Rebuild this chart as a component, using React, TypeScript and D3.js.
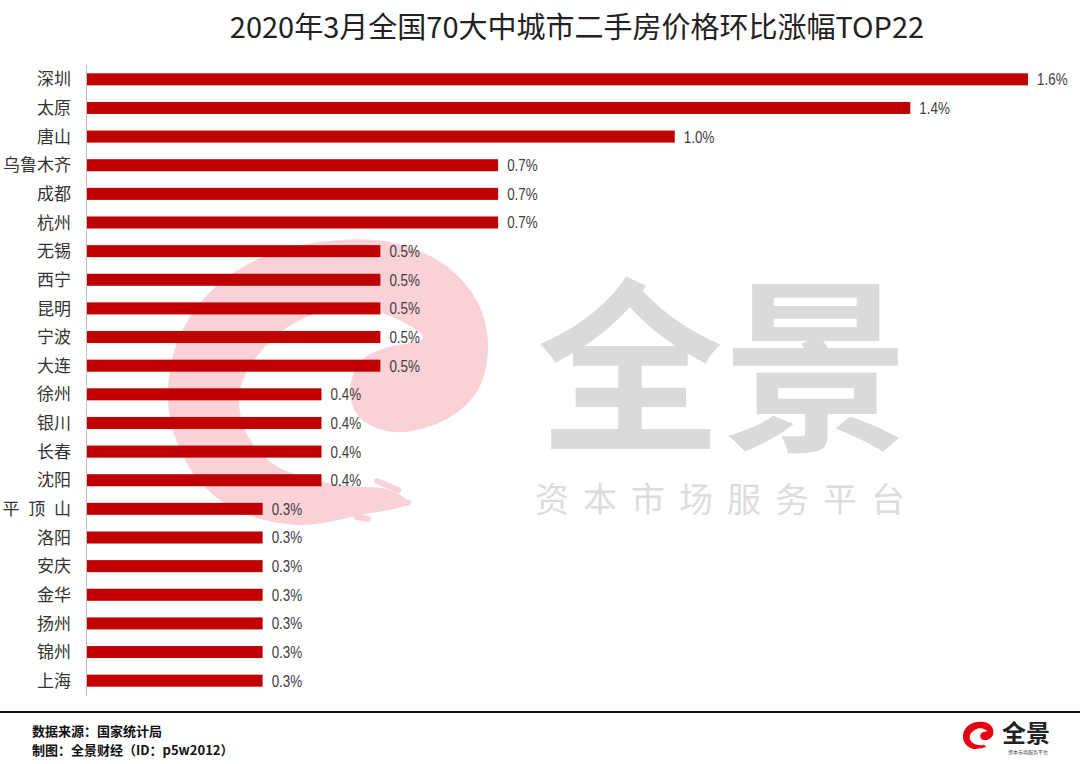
import React, { useEffect } from 'react';
import * as d3 from 'd3';

const cities = [
  '深圳', '太原', '唐山', '乌鲁木齐', '成都', '杭州', '无锡', '西宁', '昆明', '宁波', '大连',
  '徐州', '银川', '长春', '沈阳', '平 顶 山', '洛阳', '安庆', '金华', '扬州', '锦州', '上海'
];
const values = [
  1.6, 1.4, 1.0, 0.7, 0.7, 0.7, 0.5, 0.5, 0.5, 0.5, 0.5,
  0.4, 0.4, 0.4, 0.4, 0.3, 0.3, 0.3, 0.3, 0.3, 0.3, 0.3
];
const title = '2020年3月全国70大中城市二手房价格环比涨幅TOP22';
const sourceNote = '数据来源：国家统计局';
const makerNote = '制图：全景财经（ID：p5w2012）';

const W = 1080;
const H = 764;
const BAR = '#c00000';
const CJK = '"Noto Sans CJK SC", "Noto Sans", sans-serif';
const NUM = '"Liberation Sans Narrow", "Liberation Sans", Arial, sans-serif';

// outline of the swirl mark used as watermark and in the footer logo
const swirl: [number, number][] = [
  [408, 503], [360, 515], [300, 525], [240, 512], [200, 482], [176, 440], [168, 395],
  [178, 340], [210, 292], [260, 258], [320, 242], [390, 242], [445, 265], [478, 303],
  [488, 347], [478, 390], [445, 420], [395, 432], [360, 418], [350, 390], [362, 360],
  [385, 348], [423, 338], [395, 318], [350, 308], [300, 320], [262, 350], [240, 390],
  [245, 430], [268, 460], [305, 478], [350, 486], [390, 490]
];
const strands: [number, number, number, number][] = [
  [377, 481, 398, 490], [383, 497, 408, 503], [353, 504, 378, 507], [357, 517, 368, 519]
];

const Swirl = ({ fill, transform }: { fill: string; transform?: string }) => {
  const path = d3.line().curve(d3.curveCatmullRomClosed.alpha(0.5))(swirl) || '';
  return (
    <g transform={transform}>
      <path d={path} fill={fill} />
      {strands.map((s, i) => (
        <line key={i} x1={s[0]} y1={s[1]} x2={s[2]} y2={s[3]} stroke={fill}
          strokeWidth={6} strokeLinecap="round" />
      ))}
    </g>
  );
};

export default function App() {
  useEffect(() => {
    document.body.style.margin = '0';
  }, []);

  const x = d3.scaleLinear().domain([0, 1.6]).range([86, 1028]);
  const y = d3.scaleBand<string>().domain(cities).range([65, 695])
    .paddingInner(0.58).paddingOuter(0.29);
  const mid = (c: string) => (y(c) || 0) + y.bandwidth() / 2;

  return (
    <svg width={W} height={H} style={{ display: 'block', background: '#fff' }}>
      <rect width={W} height={H} fill="#fff" />

      {/* watermark */}
      <Swirl fill="#f9d1d6" />
      <text x={723} y={437} textAnchor="middle" fontFamily={CJK} fontWeight={700}
        fontSize={186} fill="#dadada">全景</text>
      <text x={727} y={512} textAnchor="middle" fontFamily={CJK} fontSize={34}
        letterSpacing={14} fill="#dcdcdc">资本市场服务平台</text>

      <text x={577} y={38} textAnchor="middle" fontFamily={CJK} fontSize={29}
        fill="#222">{title}</text>

      {cities.map((c, i) => (
        <g key={c}>
          <rect x={x(0)} y={y(c)} width={x(values[i]) - x(0)} height={y.bandwidth()} fill={BAR} />
          <text x={71} y={mid(c)} dy="0.36em" textAnchor="end" wordSpacing={5}
            fontFamily={CJK} fontSize={17} fill="#333">{c}</text>
          <text transform={`translate(${x(values[i]) + 9},${mid(c)}) scale(0.84,1)`} dy="0.37em"
            fontFamily={NUM} fontSize={16} fill="#404040">{values[i].toFixed(1) + '%'}</text>
        </g>
      ))}

      <line x1={86.5} x2={86.5} y1={65} y2={696} stroke="#bfbfbf" strokeWidth={1} />

      {/* footer */}
      <line x1={0} x2={W} y1={712} y2={712} stroke="#111" strokeWidth={2} />
      <text x={32} y={736} fontFamily={CJK} fontWeight={700} fontSize={13} fill="#111">{sourceNote}</text>
      <text x={32} y={755} fontFamily={CJK} fontWeight={700} fontSize={13} fill="#111">{makerNote}</text>

      <Swirl fill="#e60012" transform="translate(947,699) scale(0.095)" />
      <text x={1002} y={742} fontFamily={CJK} fontWeight={700} fontSize={24} fill="#222">全景</text>
      <text x={1028} y={754} textAnchor="middle" fontFamily={CJK} fontSize={5} fill="#444">资本市场服务平台</text>
    </svg>
  );
}
